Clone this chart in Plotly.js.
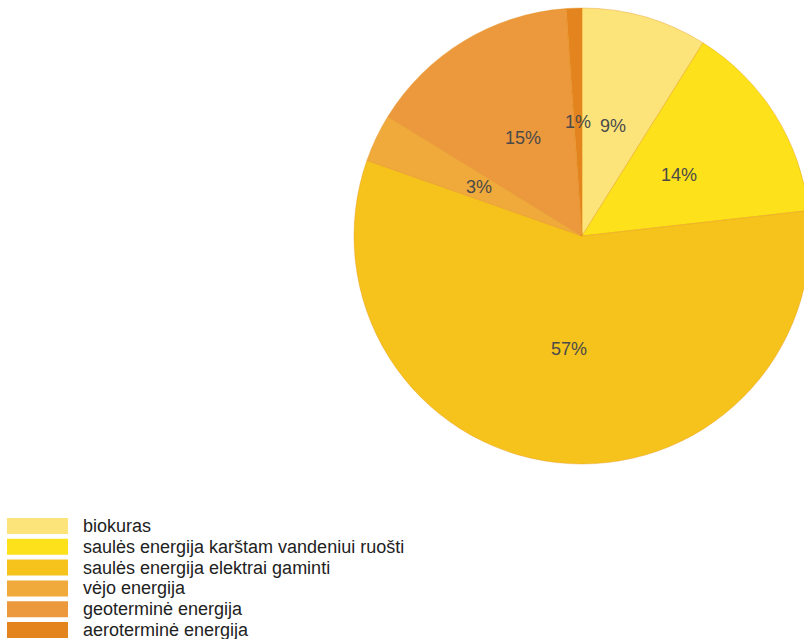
<!DOCTYPE html>
<html><head><meta charset="utf-8">
<script src="https://cdn.plot.ly/plotly-3.0.1.min.js"></script>
<style>html,body{margin:0;padding:0;overflow:hidden;background:#fff;}</style>
</head><body>
<div id="chart"></div>
<script>
const categories = ["biokuras","saulės energija karštam vandeniui ruošti","saulės energija elektrai gaminti","vėjo energija","geoterminė energija","aeroterminė energija"];
const values = [8.9, 14.3, 57.1, 3.4, 15.1, 1.1];
const colors = ["#FDE47A","#FDE11A","#F6C31C","#F0A93B","#EC983D","#E4841F"];

const W = 812, H = 639;
// pie domain in pixels
const px0 = 354, px1 = 810, py0 = 8, py1 = 464;
const cx = (px0 + px1) / 2, cy = (py0 + py1) / 2, R = Math.min(px1 - px0, py1 - py0) / 2;

const shapes = [], annotations = [];
const rowY0 = 526, rowStep = 20.8;
categories.forEach((c, i) => {
  const yy = rowY0 + i * rowStep;
  shapes.push({type:'rect', xref:'paper', yref:'paper',
    x0: 7/W, x1: 68/W, y0: 1-(yy+8)/H, y1: 1-(yy-8)/H,
    fillcolor: colors[i], line:{width:0}});
  annotations.push({xref:'paper', yref:'paper', x: 81/W, y: 1-yy/H,
    xanchor:'left', yanchor:'middle', text: c, showarrow:false,
    font:{family:'Liberation Sans, Arial', size:18, color:'#222'}});
});

// percent labels at half radius, at each slice's mid-angle (derived from the values)
const total = values.reduce((a, b) => a + b, 0);
let cum = 0;
values.forEach((v) => {
  const mid = (cum + v / 2) / total * 2 * Math.PI;
  cum += v;
  const x = cx + 0.5 * R * Math.sin(mid), y = cy - 0.5 * R * Math.cos(mid);
  annotations.push({xref:'paper', yref:'paper', x: x/W, y: 1-y/H,
    xanchor:'center', yanchor:'middle', showarrow:false,
    text: Math.round(v / total * 100) + '%',
    font:{family:'Liberation Sans, Arial', size:18, color:'#4a4a4a'}});
});

const data = [{
  type:'pie', labels: categories, values: values, sort:false, direction:'clockwise', rotation:0,
  marker:{colors: colors, line:{color:'rgba(225,140,20,0.35)', width:1}},
  textinfo:'none',
  hoverinfo:'label+percent',
  domain:{x:[px0/W, px1/W], y:[1-py1/H, 1-py0/H]},
  showlegend:false
}];
const layout = {width:W, height:H, margin:{l:0,r:0,t:0,b:0}, paper_bgcolor:'#fff',
  shapes: shapes, annotations: annotations, showlegend:false};
Plotly.newPlot('chart', data, layout, {displayModeBar:false, staticPlot:true});
</script>
</body></html>
